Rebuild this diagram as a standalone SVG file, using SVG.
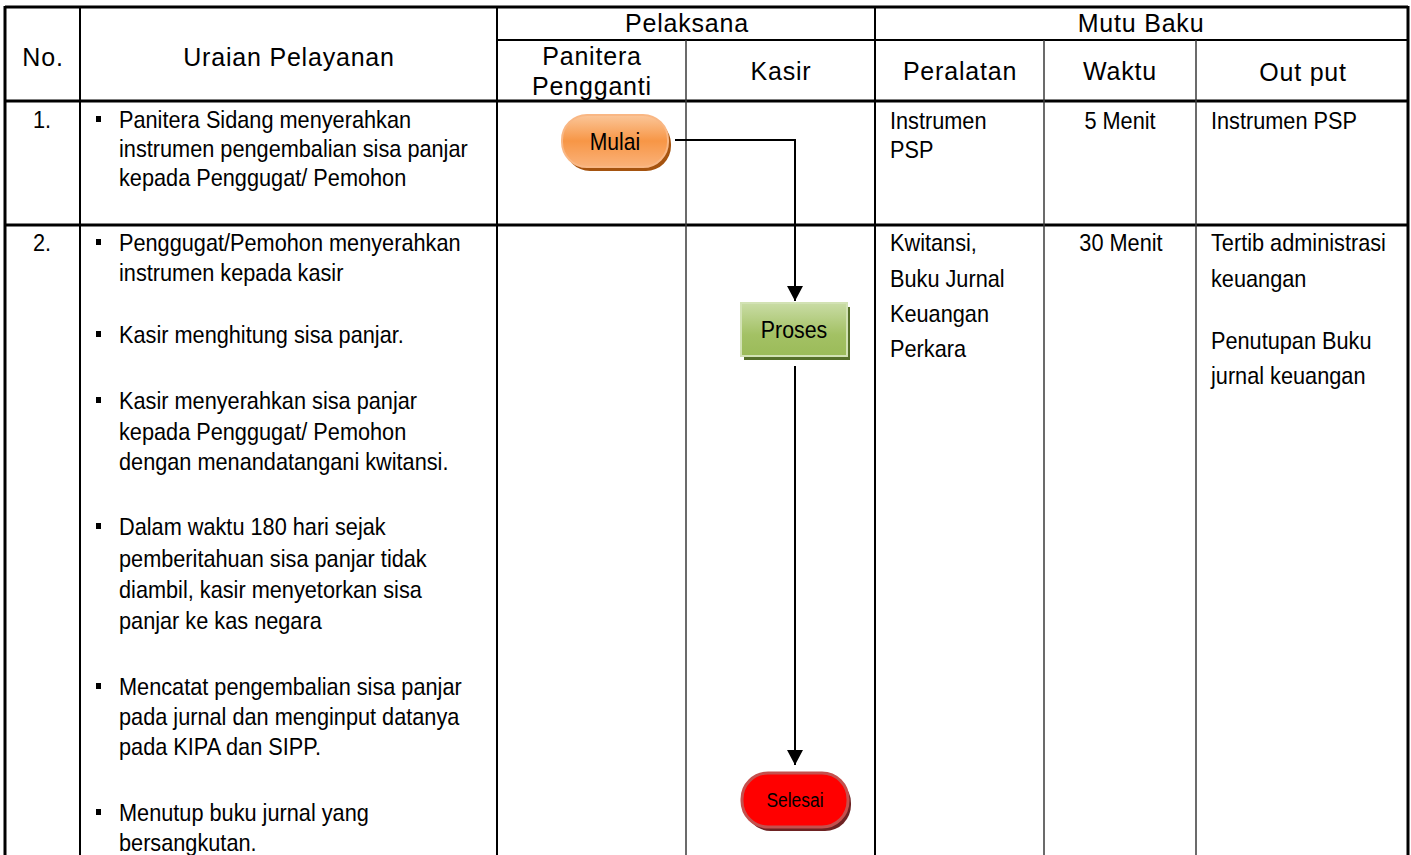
<svg xmlns="http://www.w3.org/2000/svg" width="1411" height="855" viewBox="0 0 1411 855">
<style>
.h{font-family:"Liberation Sans",Arial,sans-serif;font-size:25px;letter-spacing:0.8px;fill:#000;text-anchor:middle}
.b{font-family:"Liberation Sans",Arial,sans-serif;font-size:24px;fill:#000}
.c{text-anchor:middle}
.thick{stroke:#000;stroke-width:3;fill:none}
.med{stroke:#000;stroke-width:2;fill:none}
.thin{stroke:#3a3a3a;stroke-width:1.5;fill:none}
.conn{stroke:#000;stroke-width:2;fill:none}
</style>
<defs>
<marker id="arr" viewBox="0 0 15 16" markerWidth="15" markerHeight="16" refX="15" refY="8" orient="auto" markerUnits="userSpaceOnUse">
<path d="M0,0 L15,8 L0,16 z" fill="#000"/>
</marker>
<linearGradient id="gOr" x1="0" y1="0" x2="0" y2="1">
<stop offset="0" stop-color="#fbc699"/>
<stop offset="0.5" stop-color="#f79646"/>
<stop offset="1" stop-color="#fab27a"/>
</linearGradient>
<linearGradient id="gGr" x1="0" y1="0" x2="0" y2="1">
<stop offset="0" stop-color="#c9dca5"/>
<stop offset="0.6" stop-color="#a3c164"/>
<stop offset="1" stop-color="#9bbb59"/>
</linearGradient>
</defs>
<rect width="1411" height="855" fill="#fff"/>

<g id="table">
<line class="thick" x1="5" y1="7" x2="1408" y2="7"/>
<line class="med" x1="497" y1="40" x2="1408" y2="40"/>
<line class="thick" x1="5" y1="101" x2="1408" y2="101"/>
<line class="thick" x1="5" y1="225" x2="1408" y2="225"/>
<line class="thick" x1="5" y1="6" x2="5" y2="855"/>
<line class="med" x1="80" y1="7" x2="80" y2="855"/>
<line class="med" x1="497" y1="7" x2="497" y2="855"/>
<line class="thin" x1="686" y1="40" x2="686" y2="855"/>
<line class="med" x1="875" y1="7" x2="875" y2="855"/>
<line class="thin" x1="1044" y1="40" x2="1044" y2="855"/>
<line class="thin" x1="1196" y1="40" x2="1196" y2="855"/>
<line class="thick" x1="1408" y1="6" x2="1408" y2="855"/>
</g>

<g id="header">
<text class="h" x="43" y="66">No.</text>
<text class="h" x="289" y="66">Uraian Pelayanan</text>
<text class="h" x="687" y="32">Pelaksana</text>
<text class="h" x="1141" y="32">Mutu Baku</text>
<text class="h" x="592" y="65">Panitera</text>
<text class="h" x="592" y="95">Pengganti</text>
<text class="h" x="781" y="80">Kasir</text>
<text class="h" x="960" y="80">Peralatan</text>
<text class="h" x="1120" y="80">Waktu</text>
<text class="h" x="1303" y="81">Out put</text>
</g>

<g id="row1">
<text class="b c" transform="translate(42 128) scale(0.905 1)">1.</text>
<rect x="96" y="116" width="5" height="6" fill="#000"/>
<text class="b" transform="translate(119 128) scale(0.905 1)">Panitera Sidang menyerahkan</text>
<text class="b" transform="translate(119 157) scale(0.905 1)">instrumen pengembalian sisa panjar</text>
<text class="b" transform="translate(119 186) scale(0.905 1)">kepada Penggugat/ Pemohon</text>
<text class="b" transform="translate(890 129) scale(0.905 1)">Instrumen</text>
<text class="b" transform="translate(890 158) scale(0.905 1)">PSP</text>
<text class="b c" transform="translate(1120 129) scale(0.905 1)">5 Menit</text>
<text class="b" transform="translate(1211 129) scale(0.905 1)">Instrumen PSP</text>
</g>

<g id="row2">
<text class="b c" transform="translate(42 251) scale(0.905 1)">2.</text>
<rect x="96" y="239" width="5" height="6" fill="#000"/>
<text class="b" transform="translate(119 251) scale(0.905 1)">Penggugat/Pemohon menyerahkan</text>
<text class="b" transform="translate(119 281) scale(0.905 1)">instrumen kepada kasir</text>
<rect x="96" y="331" width="5" height="6" fill="#000"/>
<text class="b" transform="translate(119 343) scale(0.905 1)">Kasir menghitung sisa panjar.</text>
<rect x="96" y="397" width="5" height="6" fill="#000"/>
<text class="b" transform="translate(119 409) scale(0.905 1)">Kasir menyerahkan sisa panjar</text>
<text class="b" transform="translate(119 440) scale(0.905 1)">kepada Penggugat/ Pemohon</text>
<text class="b" transform="translate(119 470) scale(0.905 1)">dengan menandatangani kwitansi.</text>
<rect x="96" y="523" width="5" height="6" fill="#000"/>
<text class="b" transform="translate(119 535) scale(0.905 1)">Dalam waktu 180 hari sejak</text>
<text class="b" transform="translate(119 567) scale(0.905 1)">pemberitahuan sisa panjar tidak</text>
<text class="b" transform="translate(119 598) scale(0.905 1)">diambil, kasir menyetorkan sisa</text>
<text class="b" transform="translate(119 629) scale(0.905 1)">panjar ke kas negara</text>
<rect x="96" y="683" width="5" height="6" fill="#000"/>
<text class="b" transform="translate(119 695) scale(0.905 1)">Mencatat pengembalian sisa panjar</text>
<text class="b" transform="translate(119 725) scale(0.905 1)">pada jurnal dan menginput datanya</text>
<text class="b" transform="translate(119 755) scale(0.905 1)">pada KIPA dan SIPP.</text>
<rect x="96" y="809" width="5" height="6" fill="#000"/>
<text class="b" transform="translate(119 821) scale(0.905 1)">Menutup buku jurnal yang</text>
<text class="b" transform="translate(119 851) scale(0.905 1)">bersangkutan.</text>
<text class="b" transform="translate(890 251) scale(0.905 1)">Kwitansi,</text>
<text class="b" transform="translate(890 287) scale(0.905 1)">Buku Jurnal</text>
<text class="b" transform="translate(890 322) scale(0.905 1)">Keuangan</text>
<text class="b" transform="translate(890 357) scale(0.905 1)">Perkara</text>
<text class="b c" transform="translate(1121 251) scale(0.905 1)">30 Menit</text>
<text class="b" transform="translate(1211 251) scale(0.905 1)">Tertib administrasi</text>
<text class="b" transform="translate(1211 287) scale(0.905 1)">keuangan</text>
<text class="b" transform="translate(1211 349) scale(0.905 1)">Penutupan Buku</text>
<text class="b" transform="translate(1211 384) scale(0.905 1)">jurnal keuangan</text>
</g>

<g id="connectors">
<path class="conn" d="M675,140 H795 V301" marker-end="url(#arr)"/>
<path class="conn" d="M795,366 V765" marker-end="url(#arr)"/>
</g>

<g id="mulai">
<rect x="565" y="119" width="106" height="52" rx="25" fill="#a5530f"/>
<rect x="562" y="115" width="106" height="52" rx="25" fill="url(#gOr)" stroke="#f9b784" stroke-width="2"/>
<text class="b c" transform="translate(615 150) scale(0.88 1)">Mulai</text>
</g>

<g id="proses">
<rect x="744" y="307" width="106" height="53" fill="#56702a"/>
<rect x="741" y="303" width="106" height="53" fill="url(#gGr)" stroke="#d2e2b4" stroke-width="2"/>
<text class="b c" transform="translate(794 338) scale(0.89 1)">Proses</text>
</g>

<g id="selesai">
<rect x="745" y="777" width="106" height="54" rx="26" fill="#6e2222"/>
<rect x="742" y="773" width="106" height="54" rx="26" fill="#ff0000" stroke="#c4504d" stroke-width="3"/>
<text class="b c" style="font-size:20px" transform="translate(795 807) scale(0.87 1)">Selesai</text>
</g>
</svg>
